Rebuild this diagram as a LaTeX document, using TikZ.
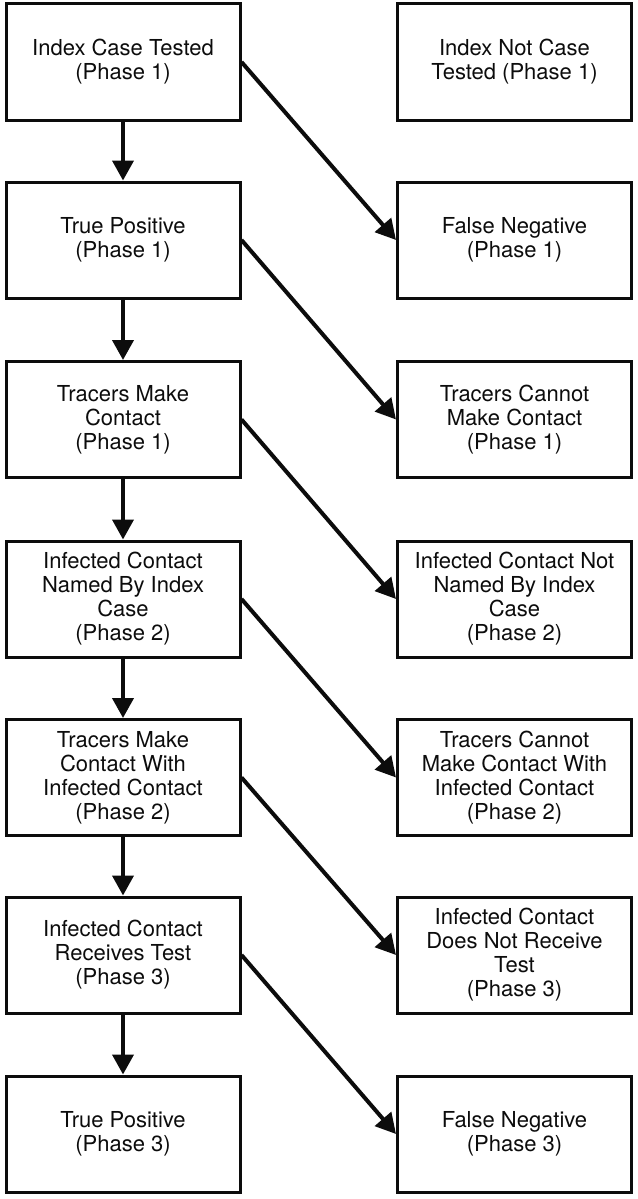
\documentclass[tikz,border=0pt]{standalone}
\usepackage{fontspec}
\setmainfont{TeX Gyre Heros}
\usepackage{tikz}
\usepackage{xcolor}
\usetikzlibrary{arrows.meta}

\begin{document}
\begin{tikzpicture}[x=1pt, y=-1pt,
		stage/.style={draw, line width={3pt}, color={ALMOST_BLACK}, minimum width={234pt}, minimum height={116pt},
			inner sep={0pt}, align=center, font={\fontsize{22}{24}\selectfont}},
		flow/.style={line width={4pt}, color={ALMOST_BLACK}, -{Triangle[length=20pt, width=21pt]}}]
				\definecolor{ALMOST_BLACK}{RGB}{12, 12, 12}
				\useasboundingbox (0, 0) rectangle (637, 1199);

				% left column
				\node[stage] (tested) at (123, 62) {Index Case Tested\\(Phase 1)};
				\node[stage] (truepos1) at (123, 240) {True Positive\\(Phase 1)};
				\node[stage] (contact1) at (123, 419.5) {Tracers Make\\Contact\\(Phase 1)};
				\node[stage] (named) at (123, 599) {Infected Contact\\Named By Index\\Case\\(Phase 2)};
				\node[stage] (contact2) at (123, 777.5) {Tracers Make\\Contact With\\Infected Contact\\(Phase 2)};
				\node[stage] (receives) at (123, 955) {Infected Contact\\Receives Test\\(Phase 3)};
				\node[stage] (truepos3) at (123, 1134) {True Positive\\(Phase 3)};

				% right column
				\node[stage] (nottested) at (514.5, 62) {Index Not Case\\Tested (Phase 1)};
				\node[stage] (falseneg1) at (514.5, 240) {False Negative\\(Phase 1)};
				\node[stage] (nocontact1) at (514.5, 419.5) {Tracers Cannot\\Make Contact\\(Phase 1)};
				\node[stage] (notnamed) at (514.5, 599) {Infected Contact Not\\Named By Index\\Case\\(Phase 2)};
				\node[stage] (nocontact2) at (514.5, 777.5) {Tracers Cannot\\Make Contact With\\Infected Contact\\(Phase 2)};
				\node[stage] (noreceive) at (514.5, 955) {Infected Contact\\Does Not Receive\\Test\\(Phase 3)};
				\node[stage] (falseneg3) at (514.5, 1134) {False Negative\\(Phase 3)};

				% down the left column
				\draw[flow] (tested) -- (truepos1);
				\draw[flow] (truepos1) -- (contact1);
				\draw[flow] (contact1) -- (named);
				\draw[flow] (named) -- (contact2);
				\draw[flow] (contact2) -- (receives);
				\draw[flow] (receives) -- (truepos3);

				% across to the right column
				\draw[flow] (tested.east) -- (falseneg1.west);
				\draw[flow] (truepos1.east) -- (nocontact1.west);
				\draw[flow] (contact1.east) -- (notnamed.west);
				\draw[flow] (named.east) -- (nocontact2.west);
				\draw[flow] (contact2.east) -- (noreceive.west);
				\draw[flow] (receives.east) -- (falseneg3.west);
			\end{tikzpicture}
\end{document}
